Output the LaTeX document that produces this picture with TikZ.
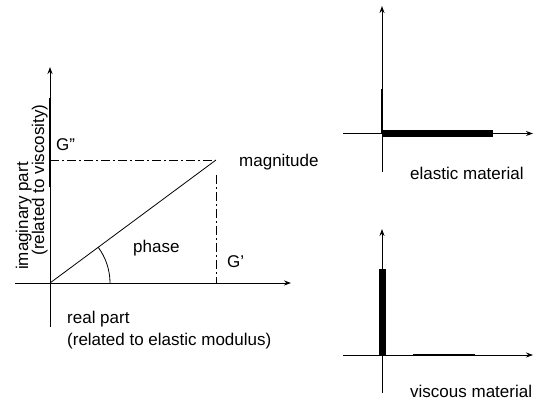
\documentclass[tikz,border=0pt]{standalone}
\usepackage{fontspec}
\setmainfont{Liberation Sans}
\usetikzlibrary{arrows.meta}
\begin{document}
\begin{tikzpicture}[x=1pt,y=1pt,
  axis/.style={line width=0.9pt,-{Stealth[length=7pt,width=5pt]}},
  txt/.style={inner sep=0pt,font=\fontsize{17}{20}\selectfont},
  lbl/.style={txt,anchor=base west},
  vlbl/.style={txt,anchor=base,rotate=90},
  guide/.style={line width=0.7pt,dash pattern=on 9pt off 3pt on 2pt off 3pt},
  plain/.style={line width=0.8pt},
]
\useasboundingbox[fill=white] (0,0) rectangle (539,-403);
% ---------- left diagram ----------
\coordinate (O) at (50,-283);
\coordinate (ytop) at (50,-67);
\coordinate (ybot) at (50,-327);
\coordinate (xleft) at (15,-283);
\coordinate (xright) at (291,-283);
\coordinate (M) at (216,-160);
\coordinate (Gpp) at (50,-160);
\coordinate (Mv) at (216,-175);
\coordinate (Gp) at (216,-283);
\coordinate (thA) at (50,-98);
\coordinate (thB) at (50,-187);
\coordinate (arcS) at (110,-283);
\draw[axis] (ybot) -- (ytop);
\draw[line width=1.8pt] (thA) -- (thB);
\draw[axis] (xleft) -- (xright);
\draw[plain] (O) -- (M);
\draw[guide] (Gpp) -- (M);
\draw[guide] (Mv) -- (Gp);
\draw[plain] (arcS) arc[start angle=0,end angle=36.5,radius=60];
\node[lbl] (gpp) at (56,-151) {G"};
\node[lbl] (mag) at (239,-167) {magnitude};
\node[lbl] (ph) at (133,-253) {phase};
\node[lbl] (gp) at (227,-268) {G'};
\node[lbl] (rp) at (67,-324) {real part};
\node[lbl] (rel) at (67,-346) {(related to elastic modulus)};
\node[vlbl] (im) at (28,-216) {imaginary part};
\node[vlbl] (rv) at (44,-180) {(related to viscosity)};
% ---------- right top: elastic ----------
\coordinate (A) at (382,-133.5);
\coordinate (ytA) at (382,-6);
\coordinate (ybA) at (382,-172);
\coordinate (xlA) at (343,-133.5);
\coordinate (xrA) at (533,-133.5);
\coordinate (barA) at (493,-133.5);
\coordinate (thvA) at (382,-89);
\draw[axis] (ybA) -- (ytA);
\draw[axis] (xlA) -- (xrA);
\draw[line width=7pt] (A) -- (barA);
\draw[line width=2pt] (thvA) -- (A);
\node[lbl] (el) at (410,-180) {elastic material};
% ---------- right bottom: viscous ----------
\coordinate (B) at (382.5,-355);
\coordinate (ytB) at (382,-229);
\coordinate (ybB) at (382,-393);
\coordinate (xlB) at (343,-355);
\coordinate (xrB) at (533,-355);
\coordinate (barB) at (382.5,-269);
\coordinate (thhA) at (413,-355);
\coordinate (thhB) at (475,-355);
\draw[axis] (ybB) -- (ytB);
\draw[axis] (xlB) -- (xrB);
\draw[line width=7pt] (B) -- (barB);
\draw[line width=2pt] (thhA) -- (thhB);
\node[lbl] (vi) at (410,-398) {viscous material};
\end{tikzpicture}
\end{document}
